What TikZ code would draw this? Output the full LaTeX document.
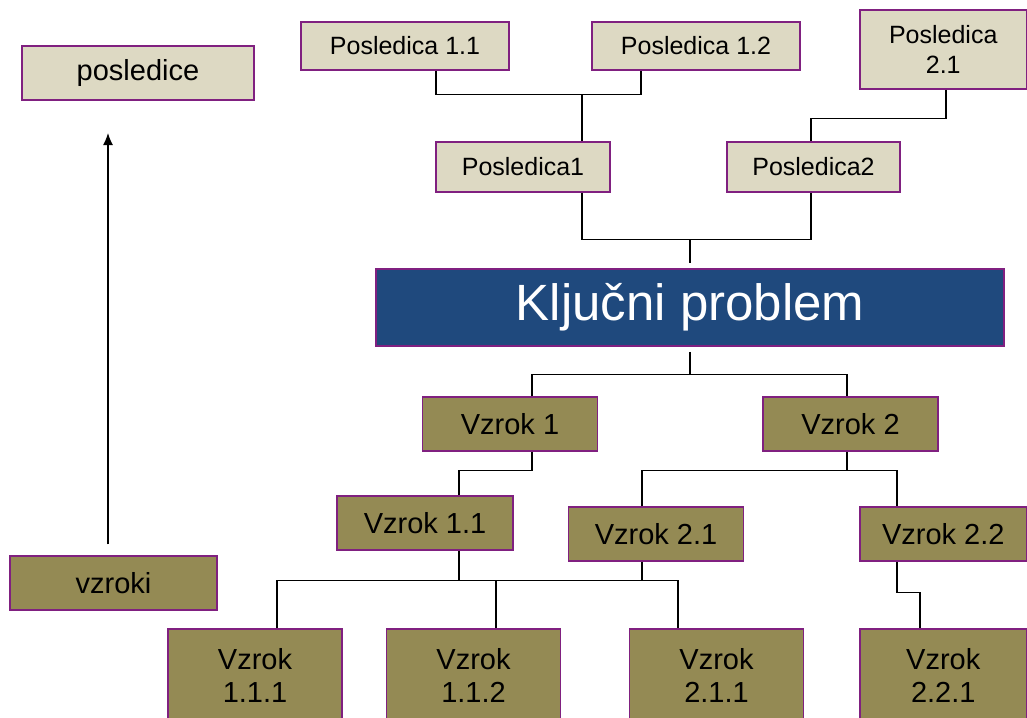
\documentclass[tikz,border=0pt]{standalone}
\usepackage{fontspec}
\setmainfont{Liberation Sans}
\usetikzlibrary{positioning,arrows.meta}

\definecolor{posfill}{RGB}{221,217,195}
\definecolor{vzrfill}{RGB}{148,138,84}
\definecolor{keyblue}{RGB}{31,73,125}
\definecolor{boxline}{RGB}{128,32,128}

\begin{document}
\begin{tikzpicture}[x=1pt,y=1pt,>={Latex[length=12pt,width=10pt]},on grid,
    box/.style={draw=boxline,line width=1.5pt,inner sep=0pt,align=center},
    pos node/.style={box,fill=posfill,minimum width=174pt,minimum height=50pt,font=\fontsize{25}{30}\selectfont},
    vzr node/.style={box,fill=vzrfill,minimum width=175pt,minimum height=54pt,font=\fontsize{29}{33}\selectfont},
    leaf node/.style={vzr node,minimum width=174pt,minimum height=92pt},
    link/.style={line width=1.3pt}]
    \useasboundingbox (0,0) rectangle (1027,-717);

    \node[box,fill=keyblue,text=white,minimum width=628pt,minimum height=77pt,font=\fontsize{51}{60}\selectfont] (kp) at (690,-307.5) {Ključni problem};
    \node[vzr node] (v1) [below left=116.5pt and 180pt of kp] {Vzrok 1};
    \node[vzr node] (v2) [below right=116.5pt and 160.5pt of kp] {Vzrok 2};
    \node[vzr node,minimum width=176pt] (v11) [below left=99pt and 85pt of v1] {Vzrok 1.1};
    \node[vzr node] (v21) [below left=110pt and 194.5pt of v2] {Vzrok 2.1};
    \node[vzr node,minimum width=166.5pt] (v22) [below right=110pt and 92.75pt of v2] {Vzrok 2.2};
    \node[leaf node] (v111) [below left=152pt and 170pt of v11] {Vzrok\\1.1.1};
    \node[leaf node] (v112) [below right=152pt and 48.5pt of v11] {Vzrok\\1.1.2};
    \node[leaf node] (v211) [below right=141pt and 60.5pt of v21] {Vzrok\\2.1.1};
    \node[leaf node,minimum width=166.5pt] (v221) [below=141pt of v22] {Vzrok\\2.2.1};
    \node[pos node] (p1) [above left=140.5pt and 167pt of kp] {Posledica1};
    \node[pos node,minimum width=173pt] (p2) [above right=140.5pt and 123.5pt of kp] {Posledica2};
    \node[pos node,minimum width=208pt,minimum height=48pt] (p11) [above left=121pt and 118pt of p1] {Posledica 1.1};
    \node[pos node,minimum width=208pt,minimum height=48pt] (p12) [above right=121pt and 173pt of p1] {Posledica 1.2};
    \node[pos node,minimum width=166.5pt,minimum height=79pt] (p21) [above right=117.5pt and 129.75pt of p2] {Posledica\\2.1};
    \node[pos node,minimum width=232pt,minimum height=54pt,font=\fontsize{29}{33}\selectfont] (posledice) at (138,-73) {posledice};
    \node[vzr node,minimum width=207pt] (vzroki) at (113.5,-583) {vzroki};

    \coordinate (j1) at ([xshift=59pt,yshift=47pt]p1.north);
    \coordinate (j2) at ([xshift=-2.5pt,yshift=23pt]p2.north);
    \coordinate (j3) at ([yshift=29pt]kp.north);
    \coordinate (j4) at ([yshift=-28pt]kp.south);
    \coordinate (j6) at ([xshift=-3.5pt,yshift=-19pt]v2.south);
    \coordinate (j7) at ([xshift=-14pt,yshift=-19pt]v21.south);
    \coordinate (tip) at (108,-133);

    \draw[link] ([xshift=31pt]p11.south) |- (j1) -| ([xshift=-55pt]p12.south);
    \draw[link] (j1) -- ([xshift=59pt]p1.north);
    \draw[link] ([xshift=2.75pt]p21.south) |- (j2) -- ([xshift=-2.5pt]p2.north);
    \draw[link] ([xshift=59pt]p1.south) |- (j3) -| ([xshift=-2.5pt]p2.south);
    \draw[link] (j3) -- ([yshift=5pt]kp.north);
    \draw[link] ([yshift=-5pt]kp.south) -- (j4);
    \draw[link] ([xshift=22pt]v1.north) |- (j4) -| ([xshift=-3.5pt]v2.north);
    \draw[link] ([xshift=22pt]v1.south) -- ++(0,-19pt) -| ([xshift=34pt]v11.north);
    \draw[link] ([xshift=-3.5pt]v2.south) -- (j6);
    \draw[link] ([xshift=-14pt]v21.north) |- (j6) -| ([xshift=-46.25pt]v22.north);
    \draw[link] ([xshift=34pt]v11.south) |- (j7);
    \draw[link] ([xshift=-14pt]v21.south) -- (j7);
    \draw[link] ([xshift=22pt]v111.north) |- (j7) -| ([xshift=-38.5pt]v211.north);
    \draw[link] ([xshift=22.5pt]v112.north) |- (j7);
    \draw[link] ([xshift=-46.25pt]v22.south) -- ++(0,-31pt) -| ([xshift=-23.25pt]v221.north);
    \draw[link,->] ([xshift=-5.5pt,yshift=11pt]vzroki.north) -- (tip);
\end{tikzpicture}
\end{document}
